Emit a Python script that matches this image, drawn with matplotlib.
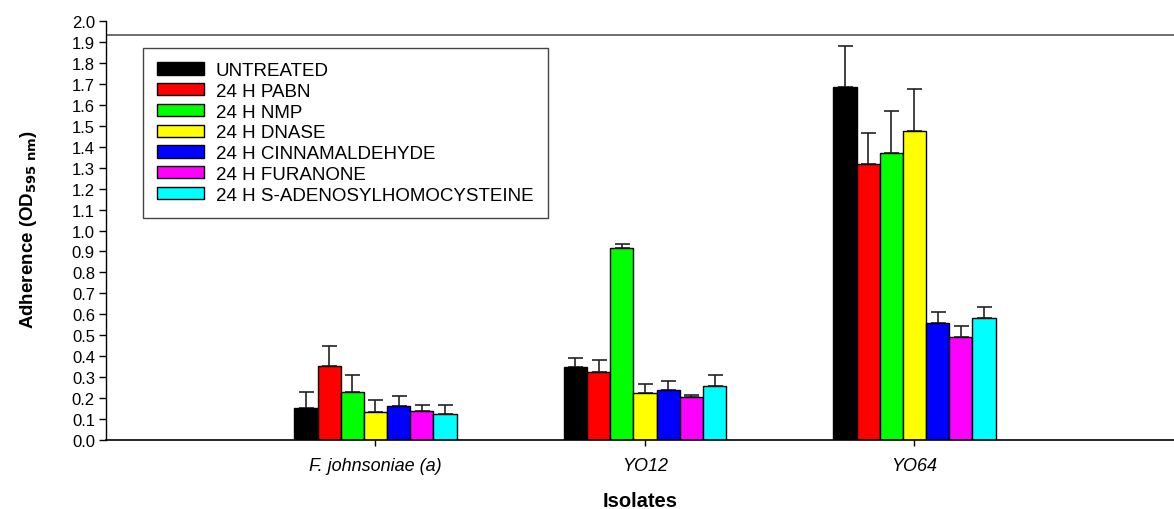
import matplotlib
matplotlib.use("Agg")
import matplotlib.pyplot as plt
import numpy as np

plt.rcParams['font.family'] = ['Liberation Sans', 'DejaVu Sans']

isolates = ["F. johnsoniae (a)", "YO12", "YO64"]
treatments = ["UNTREATED", "24 H PABN", "24 H NMP", "24 H DNASE",
              "24 H CINNAMALDEHYDE", "24 H FURANONE", "24 H S-ADENOSYLHOMOCYSTEINE"]
colors = ["#000000", "#ff0000", "#00ff00", "#ffff00", "#0000ff", "#ff00ff", "#00ffff"]

untreated = [0.153, 0.350, 1.683]
pabn      = [0.353, 0.323, 1.319]
nmp       = [0.229, 0.915, 1.370]
dnase     = [0.135, 0.223, 1.476]
cinnam    = [0.161, 0.240, 0.560]
furanone  = [0.140, 0.207, 0.492]
sah       = [0.126, 0.259, 0.581]

err_untreated = [0.075, 0.041, 0.199]
err_pabn      = [0.097, 0.060, 0.146]
err_nmp       = [0.083, 0.022, 0.202]
err_dnase     = [0.055, 0.046, 0.201]
err_cinnam    = [0.050, 0.043, 0.051]
err_furanone  = [0.029, 0.006, 0.051]
err_sah       = [0.043, 0.051, 0.052]

series = [untreated, pabn, nmp, dnase, cinnam, furanone, sah]
errors = [err_untreated, err_pabn, err_nmp, err_dnase, err_cinnam, err_furanone, err_sah]

fig = plt.figure(figsize=(11.74, 5.10), dpi=100)
ax = fig.add_axes([106/1174, 69/510, 1 - 106/1174, 419/510])

x = np.arange(1, len(isolates) + 1)
w = 0.086
n = len(series)
for i, (vals, errs, c, lab) in enumerate(zip(series, errors, colors, treatments)):
    pos = x + (i - (n - 1) / 2) * w
    ax.bar(pos, vals, width=w, color=c, edgecolor='black', linewidth=1.0, label=lab, zorder=2)
    ax.errorbar(pos, vals, yerr=[np.zeros(len(vals)), errs], fmt='none',
                ecolor='#222222', elinewidth=1.2, capsize=5.4, capthick=1.2, zorder=1)

ax.set_xlim(0, 3.963)
ax.set_ylim(0, 2.0)
yt = np.round(np.arange(0, 2.01, 0.1), 1)
ax.set_yticks(yt)
ax.set_yticklabels([f"{v:.1f}" for v in yt], fontsize=12)
ax.set_xticks(x)
ax.set_xticklabels(isolates, fontsize=13, style='italic')
ax.tick_params(axis='y', direction='out', length=5, width=1, pad=3)
ax.tick_params(axis='x', direction='out', length=4.5, width=1, pad=8)

for s in ['top', 'right']:
    ax.spines[s].set_visible(False)
ax.spines['left'].set_linewidth(1.0)
ax.spines['bottom'].set_linewidth(1.2)
ax.axhline(1.935, color='#555555', linewidth=1.2, zorder=0)

ax.set_xlabel("Isolates", fontsize=14.5, fontweight='bold', labelpad=12)
ax.set_ylabel(r"Adherence (OD$_{\mathbf{595\ nm}}$)", fontsize=13.5, fontweight='bold')
ax.yaxis.set_label_coords(-0.063, 0.504)

leg = ax.legend(loc='upper left', bbox_to_anchor=(37/1068, 1 - 27/419), fontsize=13.5,
                frameon=True, fancybox=False, edgecolor='#444444', framealpha=1,
                handlelength=2.5, handleheight=0.64, handletextpad=0.64,
                labelspacing=0.2, borderpad=0.75, borderaxespad=0)
leg.get_frame().set_linewidth(1.0)

fig.savefig("out.png", dpi=100)
